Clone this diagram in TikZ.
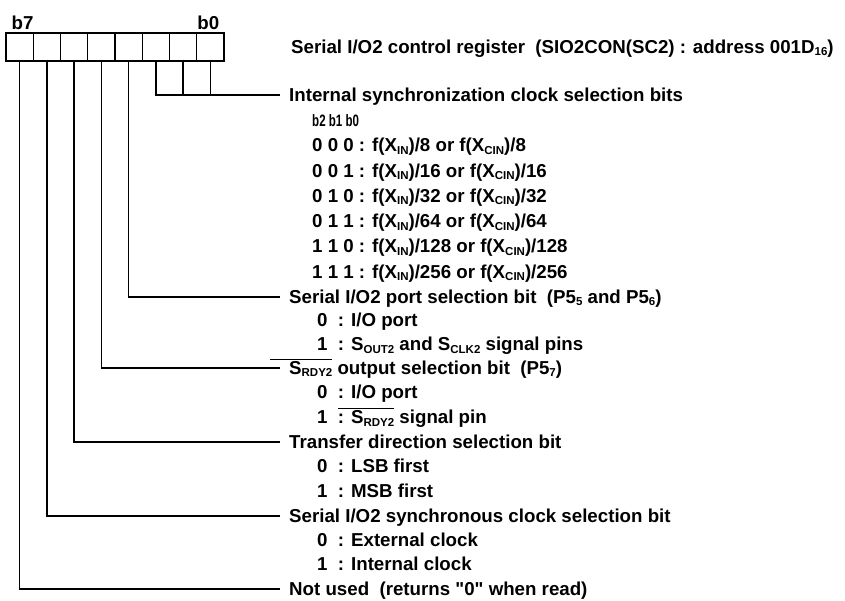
\documentclass[tikz,border=0pt]{standalone}
\usepackage{fontspec}
\setmainfont{Liberation Sans}
\usepackage{graphicx}
\usetikzlibrary{positioning}

\newcommand{\sbs}[1]{\raisebox{-2.5pt}{\fontsize{11.5}{11.5}\selectfont #1}}
\newlength{\ovw}
\newcommand{\srdy}[1]{\settowidth{\ovw}{S\sbs{RDY2}}\makebox[0pt][r]{\rule[14.5pt]{#1}{0.9pt}}\rlap{\rule[14.5pt]{\ovw}{0.9pt}}S\sbs{RDY2}}

\begin{document}
\begin{tikzpicture}[
  x=1pt, y=-1pt,
  every node/.style={font=\fontsize{18.7}{20}\selectfont\bfseries},
  cell/.style={draw, line width=1.2pt, minimum width=27.25pt, minimum height=28pt, inner sep=0pt, outer sep=0pt},
  lbl/.style={anchor=west, inner xsep=9pt, inner ysep=0pt, text height=13.5pt, text depth=1pt},
  row/.style={anchor=west, inner sep=0pt, text height=13.5pt, text depth=1pt},
  wire/.style={line width=1.5pt}
]
  \useasboundingbox (0,0) rectangle (845,600);

  % Register
  \node[cell] (b7) at (19.6,47) {};
  \node[cell] (b6) at (46.9,47) {};
  \node[cell] (b5) at (74.1,47) {};
  \node[cell] (b4) at (101.4,47) {};
  \node[cell] (b3) at (128.6,47) {};
  \node[cell] (b2) at (155.9,47) {};
  \node[cell] (b1) at (183.1,47) {};
  \node[cell] (b0) at (210.4,47) {};
  \draw[line width=2pt] (b7.north west) rectangle (b0.south east);
  \node[above=0pt of b7, xshift=3pt] (h7) {b7};
  \node[above=0pt of b0, xshift=-2pt] (h0) {b0};

  \node[lbl, inner xsep=0pt] (title) at (291,47) {Serial I/O2 control register\ \ (SIO2CON(SC2)\ : address 001D\sbs{16})};

  % Bits
  \node[lbl] (sync) at (280,95) {Internal synchronization clock selection bits};
  \node[row] (tb) at (312,120) {\scalebox{0.7}[1]{\fontsize{16.5}{17}\selectfont b2 b1 b0}};
  \node[row] (s0) at (312,145.5) {0 0 0\ : f(X\sbs{IN})/8 or f(X\sbs{CIN})/8};
  \node[row] (s1) at (312,170.8) {0 0 1\ : f(X\sbs{IN})/16 or f(X\sbs{CIN})/16};
  \node[row] (s2) at (312,196) {0 1 0\ : f(X\sbs{IN})/32 or f(X\sbs{CIN})/32};
  \node[row] (s3) at (312,221.3) {0 1 1\ : f(X\sbs{IN})/64 or f(X\sbs{CIN})/64};
  \node[row] (s4) at (312,246.5) {1 1 0\ : f(X\sbs{IN})/128 or f(X\sbs{CIN})/128};
  \node[row] (s5) at (312,271.8) {1 1 1\ : f(X\sbs{IN})/256 or f(X\sbs{CIN})/256};

  \node[lbl] (port) at (280,297) {Serial I/O2 port selection bit\ \ (P5\sbs{5} and P5\sbs{6})};
  \node[row] (p0) at (317,320.7) {0\ \ : I/O port};
  \node[row] (p1) at (317,344.3) {1\ \ : S\sbs{OUT2} and S\sbs{CLK2} signal pins};

  \node[lbl] (srdy) at (280,368) {\srdy{19pt} output selection bit\ \ (P5\sbs{7})};
  \node[row] (r0) at (317,392.7) {0\ \ : I/O port};
  \node[row] (r1) at (317,417.3) {1\ \ : \srdy{13pt} signal pin};

  \node[lbl] (dir) at (280,442) {Transfer direction selection bit};
  \node[row] (d0) at (317,466.7) {0\ \ : LSB first};
  \node[row] (d1) at (317,491.3) {1\ \ : MSB first};

  \node[lbl] (clk) at (280,516) {Serial I/O2 synchronous clock selection bit};
  \node[row] (c0) at (317,540.3) {0\ \ : External clock};
  \node[row] (c1) at (317,564.7) {1\ \ : Internal clock};

  \node[lbl] (unused) at (280,589) {Not used\ \ (returns \textquotedbl 0\textquotedbl\ when read)};

  % Leader lines
  \draw[wire] (b2.south) |- (sync.west);
  \draw[wire] (b1.south) -- (b1.south |- sync.west);
  \draw[wire] (b0.south) -- (b0.south |- sync.west);
  \draw[wire] (b3.south) |- (port.west);
  \draw[wire] (b4.south) |- (srdy.west);
  \draw[wire] (b5.south) |- (dir.west);
  \draw[wire] (b6.south) |- (clk.west);
  \draw[wire] (b7.south) |- (unused.west);

\end{tikzpicture}
\end{document}
